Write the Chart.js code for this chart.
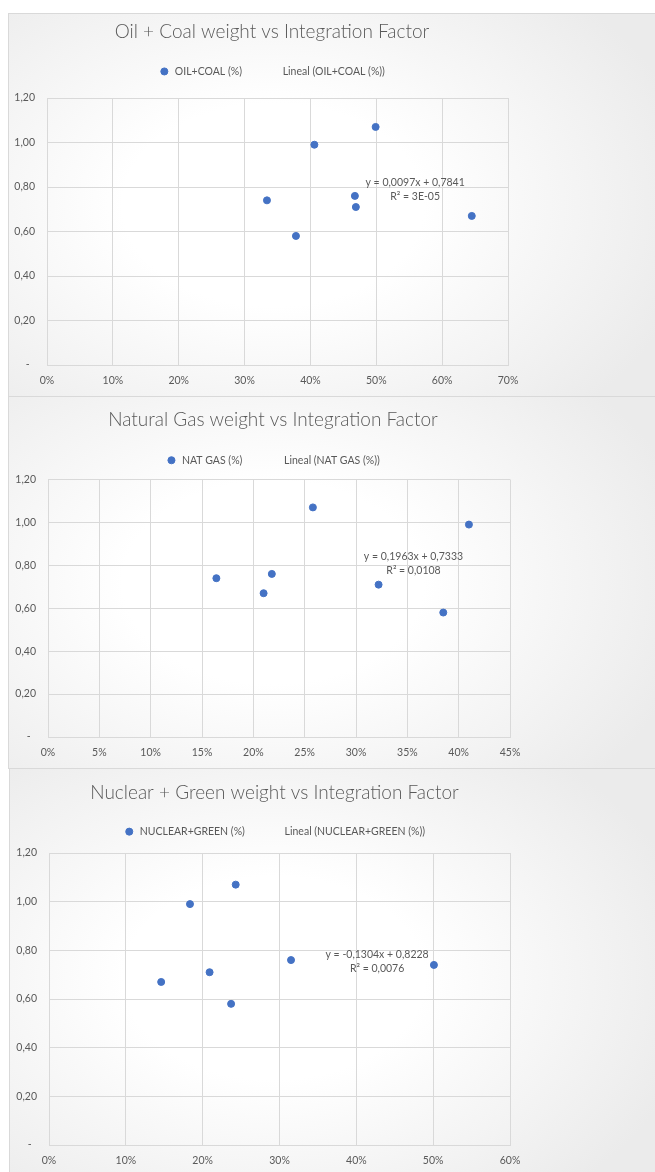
<!DOCTYPE html>
<html>
<head>
<meta charset="utf-8">
<script src="https://cdn.jsdelivr.net/npm/chart.js@4.4.1/dist/chart.umd.min.js"></script>
<style>
  html, body { margin: 0; padding: 0; background: #ffffff; overflow: hidden; width: 655px; height: 1172px; }
  .panel {
    position: absolute; box-sizing: border-box; border: 1px solid #d9d9d9;
    background: radial-gradient(ellipse 430px 290px at 264px 50%, #ffffff 0%, #ffffff 35%, #ebebeb 100%);
  }
  canvas { position: absolute; }
</style>
</head>
<body>
<div class="panel" style="left:8px;top:13px;width:660px;height:384px"></div>
<canvas id="chart-oil" width="528" height="383" style="left:8px;top:13px"></canvas>
<div class="panel" style="left:8px;top:396px;width:660px;height:373px"></div>
<canvas id="chart-gas" width="530" height="372" style="left:8px;top:396px"></canvas>
<div class="panel" style="left:9px;top:768px;width:660px;height:420px"></div>
<canvas id="chart-green" width="531" height="408" style="left:9px;top:768px"></canvas>

<script>
// Factor de integración por país (mismo orden en los tres gráficos)
const integrationFactor = [0.74, 0.58, 0.99, 0.76, 0.71, 1.07, 0.67];

// Peso de cada fuente en el mix (fracción)
const oilCoal = [0.334, 0.378, 0.406, 0.4675, 0.469, 0.499, 0.645];
const natGas = [0.164, 0.385, 0.410, 0.218, 0.322, 0.258, 0.210];
const nuclearGreen = [0.501, 0.237, 0.1835, 0.315, 0.209, 0.243, 0.146];

// Textos
const titles = [
  "Oil + Coal weight vs Integration Factor",
  "Natural Gas weight vs Integration Factor",
  "Nuclear + Green weight vs Integration Factor"
];
const seriesLabels = ["OIL+COAL (%)", "NAT GAS (%)", "NUCLEAR+GREEN (%)"];
const trendLabels = ["Lineal (OIL+COAL (%))", "Lineal (NAT GAS (%))", "Lineal (NUCLEAR+GREEN (%))"];
const equations = [
  ["y = 0,0097x + 0,7841", "R² = 3E-05"],
  ["y = 0,1963x + 0,7333", "R² = 0,0108"],
  ["y = -0,1304x + 0,8228", "R² = 0,0076"]
];

// Ejes
const xMaxValues = [0.7, 0.45, 0.6];
const xSteps = [0.1, 0.05, 0.1];
const yMax = 1.2;
const yStep = 0.2;

const TEXT_COLOR = "#595959";
const GRID_COLOR = "#d9d9d9";
const POINT_COLOR = "#4472C4";
const SMALL_FONT = 'Lato, "DejaVu Sans Condensed", sans-serif';
const SMALL_SIZE = 10.5;

Chart.defaults.font.family = SMALL_FONT;
Chart.defaults.color = TEXT_COLOR;

// Ajustes de maquetación de cada panel (no son datos)
const layouts = [
  { titleTop: 9.2, titleBottom: 0, legendPad: 25, gap: 11.3, yWidth: 39, padRight: 28, eqAt: [0.559, 0.82] },
  { titleTop: 14, titleBottom: 0, legendPad: 26, gap: 4, yWidth: 40, padRight: 28, eqAt: [0.356, 0.842] },
  { titleTop: 15.4, titleBottom: 0, legendPad: 24, gap: 6.1, yWidth: 40, padRight: 30, eqAt: [0.427, 0.782] }
];

// Plugin para escribir la ecuación de la línea de tendencia
const equationLabels = {
  id: "equationLabels",
  afterDatasetsDraw(chart, args, opts) {
    const { ctx, scales } = chart;
    const px = scales.x.getPixelForValue(opts.at[0]);
    const py = scales.y.getPixelForValue(opts.at[1]);
    ctx.save();
    ctx.font = SMALL_SIZE + "px " + SMALL_FONT;
    ctx.fillStyle = TEXT_COLOR;
    ctx.textAlign = "center";
    ctx.textBaseline = "middle";
    opts.lines.forEach((line, i) => ctx.fillText(line, px, py + i * 14));
    ctx.restore();
  }
};

function yLabel(value) {
  if (Math.abs(value) < 1e-9) return "-  ";
  return value.toFixed(2).replace(".", ",");
}

function makeChart(canvasId, i, xs) {
  const canvas = document.getElementById(canvasId);
  const lay = layouts[i];
  const points = xs.map((x, k) => ({ x: x, y: integrationFactor[k] }));

  return new Chart(canvas.getContext("2d"), {
    type: "scatter",
    data: {
      datasets: [
        {
          label: seriesLabels[i],
          data: points,
          backgroundColor: POINT_COLOR,
          borderColor: POINT_COLOR,
          pointRadius: 3.5,
          pointHoverRadius: 3.5
        },
        {
          // La línea de tendencia no se ve en el original, solo en la leyenda
          label: trendLabels[i],
          type: "line",
          data: [],
          borderColor: "rgba(0,0,0,0)",
          backgroundColor: "rgba(0,0,0,0)",
          pointRadius: 0
        }
      ]
    },
    options: {
      responsive: false,
      animation: false,
      events: [],
      layout: { padding: 0 },
      plugins: {
        title: {
          display: true,
          text: titles[i],
          color: TEXT_COLOR,
          font: { family: "Lato", size: 19, weight: 300, lineHeight: 1 },
          padding: { top: lay.titleTop, bottom: lay.titleBottom }
        },
        legend: {
          display: true,
          labels: {
            usePointStyle: true,
            boxWidth: 11,
            boxHeight: 5,
            padding: lay.legendPad,
            color: TEXT_COLOR,
            font: { size: SMALL_SIZE }
          }
        },
        // espacio entre la leyenda y el área del gráfico
        subtitle: { display: true, text: [], weight: 500, padding: { top: lay.gap, bottom: 0 } },
        tooltip: { enabled: false },
        equationLabels: { at: lay.eqAt, lines: equations[i] }
      },
      scales: {
        x: {
          type: "linear",
          min: 0,
          max: xMaxValues[i],
          ticks: {
            stepSize: xSteps[i],
            autoSkip: false,
            maxRotation: 0,
            padding: 9,
            color: TEXT_COLOR,
            font: { size: SMALL_SIZE },
            callback: v => Math.round(v * 100) + "%"
          },
          grid: { color: GRID_COLOR, drawTicks: false },
          border: { color: GRID_COLOR },
          afterFit: scale => { scale.height = 31; scale.paddingRight = lay.padRight; }
        },
        y: {
          min: 0,
          max: yMax,
          ticks: {
            stepSize: yStep,
            padding: 12,
            color: TEXT_COLOR,
            font: { size: SMALL_SIZE },
            callback: v => yLabel(v)
          },
          grid: { color: GRID_COLOR, drawTicks: false },
          border: { color: GRID_COLOR },
          afterFit: scale => { scale.width = lay.yWidth; }
        }
      }
    },
    plugins: [equationLabels]
  });
}

makeChart("chart-oil", 0, oilCoal);
makeChart("chart-gas", 1, natGas);
makeChart("chart-green", 2, nuclearGreen);
</script>
</body>
</html>
